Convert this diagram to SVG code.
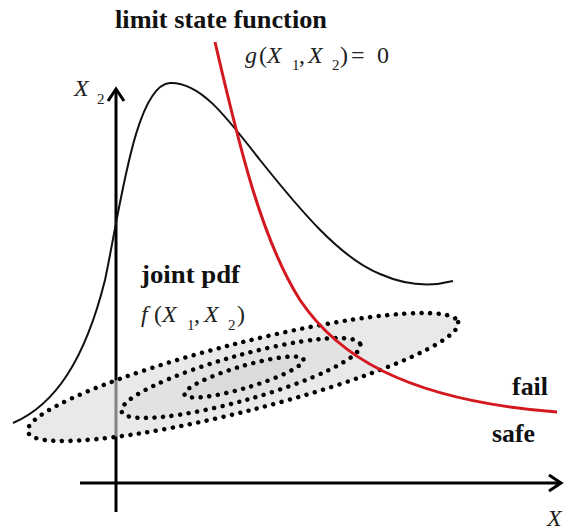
<svg xmlns="http://www.w3.org/2000/svg" width="570" height="531" viewBox="0 0 570 531">
<rect width="570" height="531" fill="#fff"/>
<g id="axes" stroke="#000" stroke-width="3" fill="none">
  <line x1="116" y1="90" x2="116" y2="512"/>
  <polyline points="108,101 116,89 124,101"/>
  <line x1="80" y1="483" x2="560" y2="483"/>
  <polyline points="549,475 561,483 549,491"/>
</g>
<g id="marginal-pdf">
  <path d="M13,423 C55,405 85,360 105,280 C120,210 135,85 170,83 C200,82 225,115 260,160 C300,210 340,258 380,274 C405,285 430,287 453,281" fill="none" stroke="#111" stroke-width="2"/>
</g>
<g id="joint-pdf">
  <ellipse cx="243" cy="377" rx="222" ry="34" transform="rotate(-14.3 243 377)" fill="#dadada" fill-opacity="0.6"/>
  <ellipse cx="241" cy="378" rx="124" ry="22.5" transform="rotate(-15.7 241 378)" fill="#d0d0d0" fill-opacity="0.25"/>
  <ellipse cx="244" cy="377" rx="62" ry="11" transform="rotate(-16.5 244 377)" fill="#c8c8c8" fill-opacity="0.25"/>
  <g fill="none" stroke="#000" stroke-width="4.5" stroke-linecap="round" stroke-dasharray="0 8.6">
    <ellipse cx="243" cy="377" rx="222" ry="34" transform="rotate(-14.3 243 377)"/>
    <ellipse cx="241" cy="378" rx="124" ry="22.5" transform="rotate(-15.7 241 378)"/>
    <ellipse cx="244" cy="377" rx="62" ry="11" transform="rotate(-16.5 244 377)"/>
  </g>
</g>
<g id="limit-state">
  <path d="M215,42 C240,150 262,240 300,300 C335,352 400,400 557,412" fill="none" stroke="#d41820" stroke-width="3"/>
</g>
<g id="labels" fill="#111" font-family="Times New Roman, Liberation Serif, serif">
  <text font-family="Times New Roman, Liberation Serif, serif" font-weight="bold" font-size="26" x="115" y="28" textLength="212" lengthAdjust="spacingAndGlyphs">limit state function</text>
  <text font-family="Times New Roman, Liberation Serif, serif" fill="#222" font-size="24" x="245" y="63"><tspan font-style="italic">g</tspan><tspan x="259">(</tspan><tspan x="267" font-style="italic">X</tspan><tspan x="292" y="70" font-size="15">1</tspan><tspan x="299" y="63">,</tspan><tspan x="308" font-style="italic">X</tspan><tspan x="332" y="70" font-size="15">2</tspan><tspan x="340" y="63">)</tspan><tspan x="351">=</tspan><tspan x="377">0</tspan></text>
  <text font-family="Times New Roman, Liberation Serif, serif" fill="#222" font-size="24" x="74" y="96"><tspan font-style="italic">X</tspan><tspan x="97" y="104" font-size="15">2</tspan></text>
  <text font-family="Times New Roman, Liberation Serif, serif" font-weight="bold" font-size="26" x="141" y="283" textLength="99" lengthAdjust="spacingAndGlyphs">joint pdf</text>
  <text font-family="Times New Roman, Liberation Serif, serif" fill="#222" font-size="24" x="141" y="322"><tspan font-style="italic">f</tspan><tspan x="154">(</tspan><tspan x="162" font-style="italic">X</tspan><tspan x="187" y="330" font-size="15">1</tspan><tspan x="194" y="322">,</tspan><tspan x="204" font-style="italic">X</tspan><tspan x="228" y="330" font-size="15">2</tspan><tspan x="237" y="322">)</tspan></text>
  <text font-family="Times New Roman, Liberation Serif, serif" font-weight="bold" font-size="26" x="512" y="395" textLength="36" lengthAdjust="spacingAndGlyphs">fail</text>
  <text font-family="Times New Roman, Liberation Serif, serif" font-weight="bold" font-size="26" x="492" y="442" textLength="43" lengthAdjust="spacingAndGlyphs">safe</text>
  <text font-family="Times New Roman, Liberation Serif, serif" font-style="italic" font-size="24" fill="#222" x="547" y="526">X</text>
</g>
</svg>
